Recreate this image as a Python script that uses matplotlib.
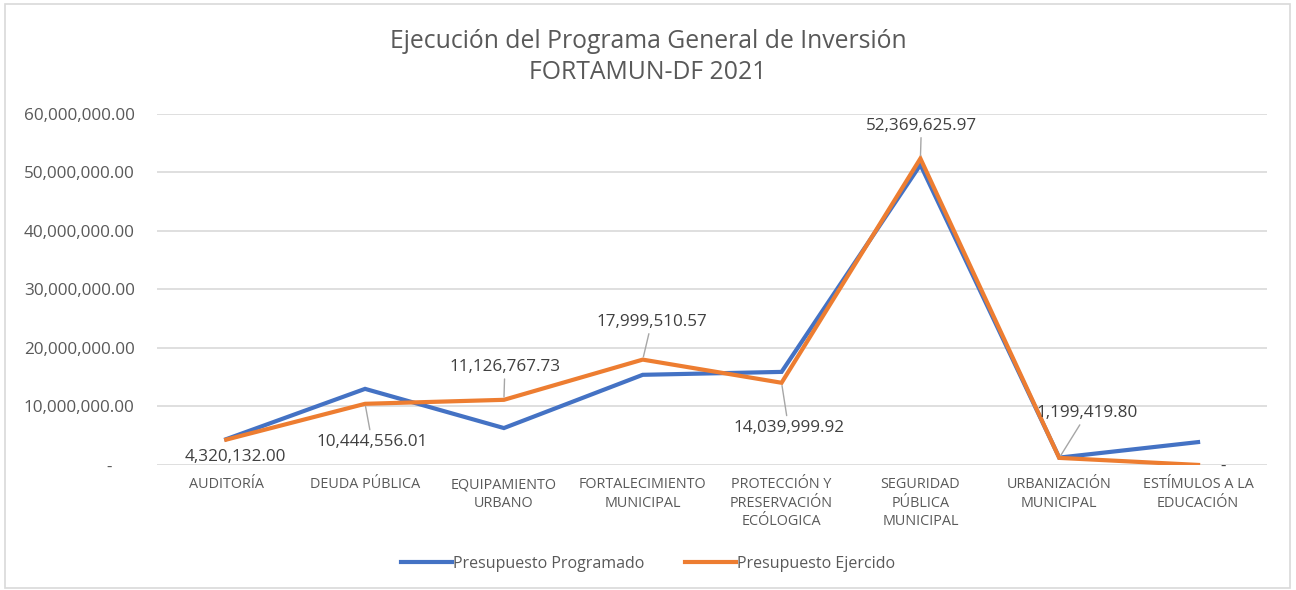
import matplotlib.pyplot as plt
from matplotlib.patches import Rectangle
from matplotlib.ticker import FuncFormatter

plt.rcParams['font.family'] = ['Open Sans', 'DejaVu Sans']

categorias = ['AUDITORÍA', 'DEUDA PÚBLICA', 'EQUIPAMIENTO\nURBANO', 'FORTALECIMIENTO\nMUNICIPAL',
              'PROTECCIÓN Y\nPRESERVACIÓN\nECÓLOGICA', 'SEGURIDAD\nPÚBLICA\nMUNICIPAL',
              'URBANIZACIÓN\nMUNICIPAL', 'ESTÍMULOS A LA\nEDUCACIÓN']
programado = [4400000, 13000000, 6300000, 15400000, 15900000, 51300000, 1250000, 3900000]
ejercido = [4320132.00, 10444556.01, 11126767.73, 17999510.57, 14039999.92, 52369625.97, 1199419.80, 0]
etiquetas = ['4,320,132.00', '10,444,556.01', '11,126,767.73', '17,999,510.57',
             '14,039,999.92', '52,369,625.97', '1,199,419.80', '-']
# label offsets in pixels (text centre relative to point), leader line or not
offsets = [(9, -17, False), (7, -38, True), (1, 33, True), (9, 38, True),
           (7, -45, True), (1, 33, True), (28, 45, True), (25, -2, False)]

gris = '#595959'
fig = plt.figure(figsize=(12.96, 5.9), dpi=100)
fig.patches.append(Rectangle((0.004, 0.004), 0.991, 0.99, transform=fig.transFigure,
                             fill=False, edgecolor='#d9d9d9', lw=1.2))
ax = fig.add_axes([0.121, 0.212, 0.857, 0.595])

x = range(len(categorias))
ax.plot(x, programado, color='#4472C4', lw=3, label='Presupuesto Programado', solid_joinstyle='miter')
ax.plot(x, ejercido, color='#ED7D31', lw=3, label='Presupuesto Ejercido', solid_joinstyle='miter')

for i, (lab, (dx, dy, leader)) in enumerate(zip(etiquetas, offsets)):
    ax.annotate(lab, (i, ejercido[i]), xytext=(dx, dy), textcoords='offset pixels',
                ha='center', va='center', fontsize=12.3, color='#404040',
                arrowprops=dict(arrowstyle='-', color='#a6a6a6', lw=1, shrinkA=1, shrinkB=2) if leader else None)

ax.set_xlim(-0.5, len(categorias) - 0.5)
ax.set_ylim(0, 60000000)
ax.set_yticks(range(0, 60000001, 10000000))
ax.yaxis.set_major_formatter(FuncFormatter(lambda v, p: '-     ' if v == 0 else f'{v:,.2f}'))
ax.set_xticks(list(x))
ax.set_xticklabels(categorias, fontsize=10.4, color=gris, linespacing=1.3, va='top')
ax.tick_params(axis='y', labelsize=12.3, labelcolor=gris, length=0, pad=16)
ax.tick_params(axis='x', length=0, pad=9)
ax.grid(axis='y', color='#d9d9d9', lw=1.2)
ax.set_axisbelow(True)
for s in ax.spines.values():
    s.set_visible(False)

fig.text(0.5, 0.903, 'Ejecución del Programa General de Inversión\nFORTAMUN-DF 2021', ha='center', va='center',
         fontsize=17.8, color=gris, linespacing=1.3)
fig.legend(loc='center', bbox_to_anchor=(0.5, 0.044), ncol=2, frameon=False, fontsize=11.5,
           handlelength=3.2, handletextpad=0.1, columnspacing=2.5, labelcolor=gris)

fig.savefig('out.png', dpi=100)
